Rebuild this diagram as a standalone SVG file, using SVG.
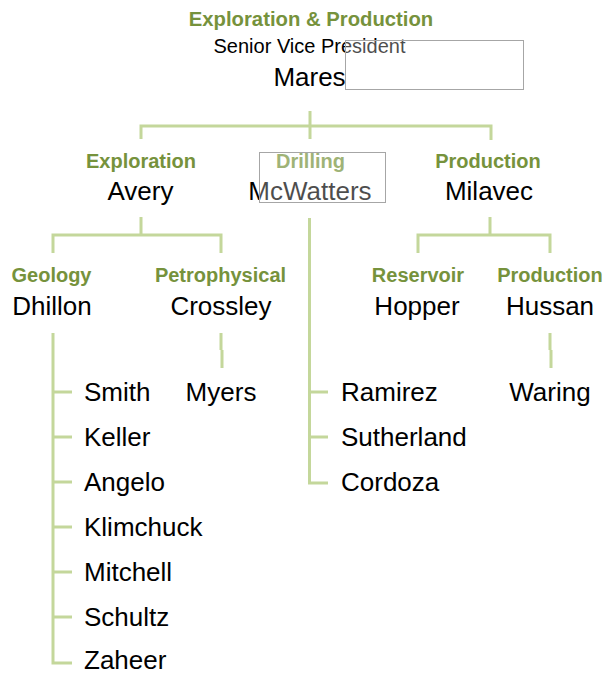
<svg xmlns="http://www.w3.org/2000/svg" width="604" height="674" viewBox="0 0 604 674">
<style>
.t{font-family:"Liberation Sans",Arial,sans-serif;fill:#000}
.h{font-family:"Liberation Sans",Arial,sans-serif;font-weight:bold;font-size:20px;fill:#76923c}
.n{font-size:26px}
.c{text-anchor:middle}
.conn{fill:none;stroke:#c4d79b;stroke-width:3;stroke-linejoin:miter}
.ov{fill:#fff;fill-opacity:0.3;stroke:#a6a6a6;stroke-width:1}
</style>
<rect width="604" height="674" fill="#fff"/>
<g id="connectors">
  <path class="conn" d="M310 111V139 M141 139V126H491V140"/>
  <path class="conn" d="M141 217V235 M53 253V235H221V253 M490 217V235 M418 253V235H550V253"/>
  <path class="conn" d="M309.5 218V483H328 M309.5 392H328 M309.5 437H328"/>
  <path class="conn" d="M53 333V663H72 M53 392H72 M53 437H72 M53 482H72 M53 527H72 M53 572H72 M53 617H72"/>
  <path class="conn" d="M221 333V350 M222 350V368"/>
  <path class="conn" d="M550 333V350 M551 350V368"/>
</g>
<g id="node-mares">
  <text class="h c" x="311" y="26" style="font-size:20.3px">Exploration &amp; Production</text>
  <text class="t c" x="309.5" y="53" font-size="20">Senior Vice President</text>
  <text class="t n c" x="309.5" y="86">Mares</text>
  <rect class="ov" x="345.5" y="40.5" width="178" height="49"/>
</g>
<g id="node-avery">
  <text class="h c" x="141" y="168">Exploration</text>
  <text class="t n c" x="140.5" y="200">Avery</text>
</g>
<g id="node-mcwatters">
  <text class="h c" x="310.5" y="168">Drilling</text>
  <text class="t n c" x="310" y="200">McWatters</text>
  <rect class="ov" x="259.5" y="152.5" width="126" height="50"/>
</g>
<g id="node-milavec">
  <text class="h c" x="488" y="168">Production</text>
  <text class="t n c" x="489" y="200">Milavec</text>
</g>
<g id="node-dhillon">
  <text class="h c" x="51.5" y="282">Geology</text>
  <text class="t n c" x="52" y="315">Dhillon</text>
</g>
<g id="node-crossley">
  <text class="h c" x="220.5" y="282">Petrophysical</text>
  <text class="t n c" x="221" y="315">Crossley</text>
</g>
<g id="node-hopper">
  <text class="h c" x="418" y="282">Reservoir</text>
  <text class="t n c" x="417" y="315">Hopper</text>
</g>
<g id="node-hussan">
  <text class="h c" x="550" y="282">Production</text>
  <text class="t n c" x="550" y="315">Hussan</text>
</g>
<g id="node-smith"><text class="t n" x="84" y="401">Smith</text></g>
<g id="node-keller"><text class="t n" x="84" y="446">Keller</text></g>
<g id="node-angelo"><text class="t n" x="84" y="491">Angelo</text></g>
<g id="node-klimchuck"><text class="t n" x="84" y="536">Klimchuck</text></g>
<g id="node-mitchell"><text class="t n" x="84" y="581">Mitchell</text></g>
<g id="node-schultz"><text class="t n" x="84" y="626">Schultz</text></g>
<g id="node-zaheer"><text class="t n" x="84" y="669">Zaheer</text></g>
<g id="node-myers"><text class="t n c" x="221" y="401">Myers</text></g>
<g id="node-ramirez"><text class="t n" x="341" y="401">Ramirez</text></g>
<g id="node-sutherland"><text class="t n" x="341" y="446">Sutherland</text></g>
<g id="node-cordoza"><text class="t n" x="341" y="491">Cordoza</text></g>
<g id="node-waring"><text class="t n c" x="550" y="401">Waring</text></g>
</svg>
